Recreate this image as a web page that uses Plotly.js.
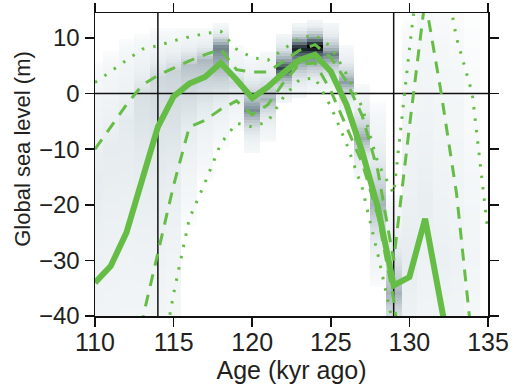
<!DOCTYPE html>
<html>
<head>
<meta charset="utf-8">
<script src="https://cdn.plot.ly/plotly-3.0.1.min.js"></script>
<style>html,body{margin:0;padding:0;background:#fff;}#chart{width:514px;height:389px;}</style>
</head>
<body>
<div id="chart"></div>
<script>
// ---- data (age in kyr ago, sea level in m) ----
const medianAges = [110,111,112,113,114,115,116,117,118,119,120,121,122,123,124,125,126,127,128,129,130,131,132,133];
const medianLevel = [-34,-31,-25,-15.5,-6,-0.5,1.8,3,5.5,2.5,-0.8,1.2,3.8,6,7,4,-2,-10.5,-20.5,-34.5,-33,-22.5,-38,-53];

const upper67Ages = [110,111,112,113,114,115,116,117,118,119,120,121,122,123,124,125,126,127,128,129,130,131,132,133,134];
const upper67Level = [-10,-6,-2,1.5,3.3,4.6,5.9,7,8,4.3,3.9,3.9,5.9,7.8,8.8,6.5,2.2,-4,-14,-30,-6,17,0.5,-18,-45];

const lower67Ages = [112,113,114,115,116,117,118,119,120,121,122,123,124,125,126,127,128,129,130];
const lower67Level = [-53,-41,-29,-16.5,-6,-4.8,-2.8,-1.3,-3.8,-2,2,5.3,5.5,0.5,-6,-12.5,-22,-37,-60];

const upper95Ages = [110,111,112,113,114,115,116,117,118,119,120,121,122,123,124,125,126,127,128,129,130,131,132,133,134,135];
const upper95Level = [2,4,6,8,8.6,9.5,10.2,10.8,11.2,8,6.5,6,8,10,10.5,8.5,3.5,-2.5,-12.5,-18,8,32,25,10,0,-25];

const lower95Ages = [114,115,116,117,118,119,120,121,122,123,124,125,126,127,128,129,130];
const lower95Level = [-52,-36,-22.5,-16,-9,-5.3,-6,-5,-0.6,2.5,2.8,-2.3,-9,-17,-29,-42,-60];

// probability-density shading, one column per kyr
const heatAges = [110,111,112,113,114,115,116,117,118,119,120,121,122,123,124,125,126,127,128,129,130,131,132,133,134];
const heatLo   = [-60,-60,-60,-60,-60,-50,-24,-16,-10,-7,-11,-9,-2,-1,0,0,-4,-16,-35,-50,-60,-60,-60,-60,-60];
const heatHi   = [6,8,10,11,12,12,12,12,13,9,7,8,11,13,13.5,13,9,2,-1,-18,14,20,20,18,16];
const heatPk   = [-15,-10,-5,0,3,4,5,6,8.3,2,-3,-1,4.5,8.2,8.5,7,2,-8,-20,-36,-30,-20,-30,-30,-30];
const heatDk   = [0.08,0.08,0.09,0.13,0.16,0.18,0.24,0.28,0.5,0.16,0.45,0.3,0.72,0.88,1.0,0.5,0.38,0.33,0.3,0.3,0.08,0.07,0.06,0.05,0.03];
const heatBase = [0.05,0.05,0.05,0.05,0.05,0.05,0.05,0.05,0.06,0.04,0.07,0.06,0.1,0.1,0.1,0.08,0.06,0.06,0.05,0.06,0.05,0.045,0.04,0.035,0.02];

const refAges = [114, 129];
const refLevels = [0];

const xTicks = [110,115,120,125,130,135];
const yTicks = [-40,-30,-20,-10,0,10];

// ---- build the density table ----
const X_RANGE = [110, 135];
const Y_RANGE = [-40, 14.5];
const yGrid = [];
for (let y = -45; y <= 16; y += 0.5) yGrid.push(y);
const zTable = yGrid.map(y => heatAges.map((a, i) => {
  const lo = heatLo[i], hi = heatHi[i], pk = heatPk[i];
  if (y < lo || y > hi) return 0;
  const w = y < pk ? (pk - lo) : (hi - pk);
  const t = w > 0 ? Math.max(0, 1 - Math.abs(y - pk) / w) : 1;
  return heatBase[i] * Math.sqrt(t) + (heatDk[i] - heatBase[i]) * t * t * t;
}));

const green = '#66bd46';
const traces = [];
traces.push({
  type: 'heatmap', x: heatAges, y: yGrid, z: zTable, zmin: 0, zmax: 1,
  zsmooth: false, showscale: false, hoverinfo: 'skip',
  colorscale: [[0,'#ffffff'],[0.02,'#f4f7f8'],[0.08,'#e6ecef'],[0.2,'#c4ced3'],[0.35,'#97a6ae'],[0.5,'#6e7f88'],[0.7,'#3a4850'],[0.85,'#182026'],[1,'#000000']]
});
refAges.forEach(a => traces.push({type:'scatter', mode:'lines', x:[a,a], y:Y_RANGE, line:{color:'#111', width:1.5}, hoverinfo:'skip'}));
refLevels.forEach(l => traces.push({type:'scatter', mode:'lines', x:X_RANGE, y:[l,l], line:{color:'#111', width:1.5}, hoverinfo:'skip'}));
traces.push({type:'scatter', mode:'lines', x:upper95Ages, y:upper95Level, line:{color:green, width:3, dash:'2.5px,9px'}});
traces.push({type:'scatter', mode:'lines', x:lower95Ages, y:lower95Level, line:{color:green, width:3, dash:'2.5px,9px'}});
traces.push({type:'scatter', mode:'lines', x:upper67Ages, y:upper67Level, line:{color:green, width:3, dash:'12px,9px'}});
traces.push({type:'scatter', mode:'lines', x:lower67Ages, y:lower67Level, line:{color:green, width:3, dash:'12px,9px'}});
traces.push({type:'scatter', mode:'lines', x:medianAges, y:medianLevel, line:{color:green, width:6}});

const font = {family:'"Liberation Sans", Arial, sans-serif', color:'#231f20'};
const layout = {
  width: 514, height: 389,
  margin: {l:95, r:26, t:13, b:73},
  paper_bgcolor:'#fff', plot_bgcolor:'#fff',
  showlegend: false,
  font: Object.assign({size:24}, font),
  xaxis: {
    range: X_RANGE, tickvals: xTicks, ticks:'outside', ticklen:9, tickwidth:1.5, tickcolor:'#111',
    showline:true, linecolor:'#111', linewidth:1.5, mirror:'ticks', showgrid:false, zeroline:false,
    tickfont: Object.assign({size:25}, font), ticklabelstandoff: -6,
    title: {text:'Age (kyr ago)', font: Object.assign({size:25}, font), standoff: 4}
  },
  yaxis: {
    range: Y_RANGE, tickvals: yTicks, ticks:'outside', ticklen:9, tickwidth:1.5, tickcolor:'#111',
    showline:true, linecolor:'#111', linewidth:1.5, mirror:'ticks', showgrid:false, zeroline:false,
    tickfont: Object.assign({size:24}, font)
  },
  annotations: [{
    text: 'Global sea level (m)', textangle: -90, showarrow: false,
    xref: 'paper', yref: 'paper', x: -0.183, y: 0.552, xanchor: 'center', yanchor: 'middle',
    font: Object.assign({size:22}, font)
  }]
};
Plotly.newPlot('chart', traces, layout, {staticPlot:true, displayModeBar:false});
</script>
</body>
</html>
